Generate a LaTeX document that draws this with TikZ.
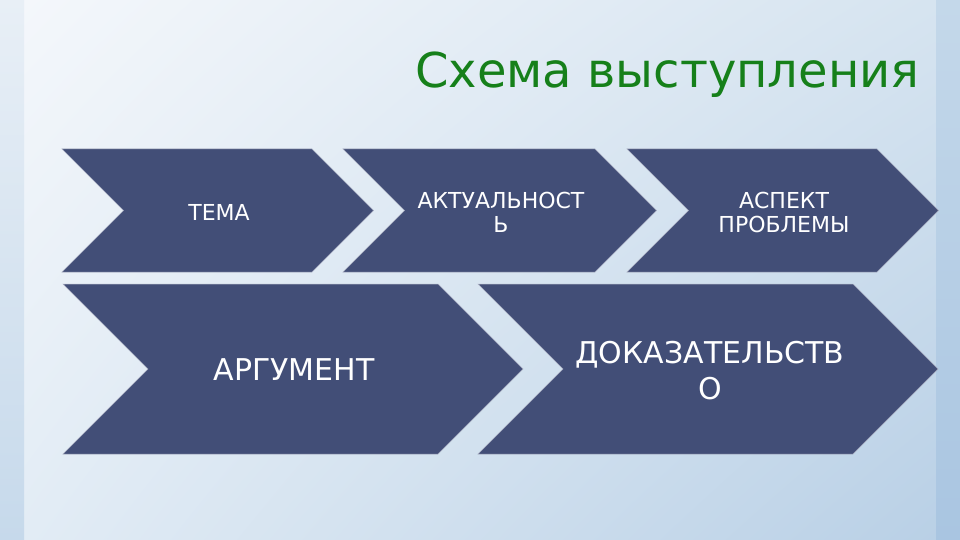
\documentclass[tikz,border=0pt]{standalone}
\usepackage{fontspec}
\usetikzlibrary{shadings}
\setmainfont{DejaVu Sans}
\definecolor{chevfill}{HTML}{424E77}
\definecolor{titlegreen}{RGB}{22,128,26}
\definecolor{bgA}{HTML}{F4F7FB}
\definecolor{bgB}{HTML}{D6E4F0}
\definecolor{bgC}{HTML}{E2ECF5}
\definecolor{bgD}{HTML}{B9D0E6}
\definecolor{leftTop}{HTML}{E8EFF6}
\definecolor{leftBot}{HTML}{C6D9EB}
\definecolor{rightTop}{HTML}{C4D8EA}
\definecolor{rightBot}{HTML}{A9C5E1}
\tikzset{
  chevron/.style={fill=chevfill, draw=white!55!chevfill, line width=0.5pt, line join=miter},
  smalltext/.style={text=white, align=center, font=\fontsize{22}{24}\selectfont, inner sep=0pt},
  bigtext/.style={text=white, align=center, font=\fontsize{30}{36}\selectfont, inner sep=0pt},
}
\newcommand{\chevshape}[4]{% x0 y0 w h
  \path[chevron] (#1,#2) -- ++(#3,0) -- ++(#4/2,#4/2) -- ++(-#4/2,#4/2) -- ++(-#3,0) -- ++(#4/2,-#4/2) -- cycle;}
\begin{document}
\begin{tikzpicture}[x=1pt,y=-1pt]
\useasboundingbox (0,0) rectangle (960,540);
% background
\shade[upper left=bgA, upper right=bgB, lower left=bgC, lower right=bgD] (24,0) rectangle (936,540);
\shade[top color=leftTop, bottom color=leftBot] (0,0) rectangle (24,540);
\shade[top color=rightTop, bottom color=rightBot] (936,0) rectangle (960,540);
% title
\node[anchor=base west, text=titlegreen, font=\fontsize{48}{58}\selectfont, inner sep=0pt] (title) at (415,88) {Схема выступления};
% chevrons
\chevshape{62}{149}{250}{123}
\chevshape{343}{149}{252}{123}
\chevshape{627}{149}{250}{123}
\chevshape{63}{284}{375}{170}
\chevshape{478}{284}{375}{170}
% texts
\node[smalltext] (tema) at (219,212) {ТЕМА};
\node[smalltext] (akt) at (501,212) {АКТУАЛЬНОСТ\\Ь};
\node[smalltext] (asp) at (784,212) {АСПЕКТ\\ПРОБЛЕМЫ};
\node[bigtext] (arg) at (294,370) {АРГУМЕНТ};
\node[bigtext] (dok) at (710,371) {ДОКАЗАТЕЛЬСТВ\\О};
\end{tikzpicture}
\end{document}
